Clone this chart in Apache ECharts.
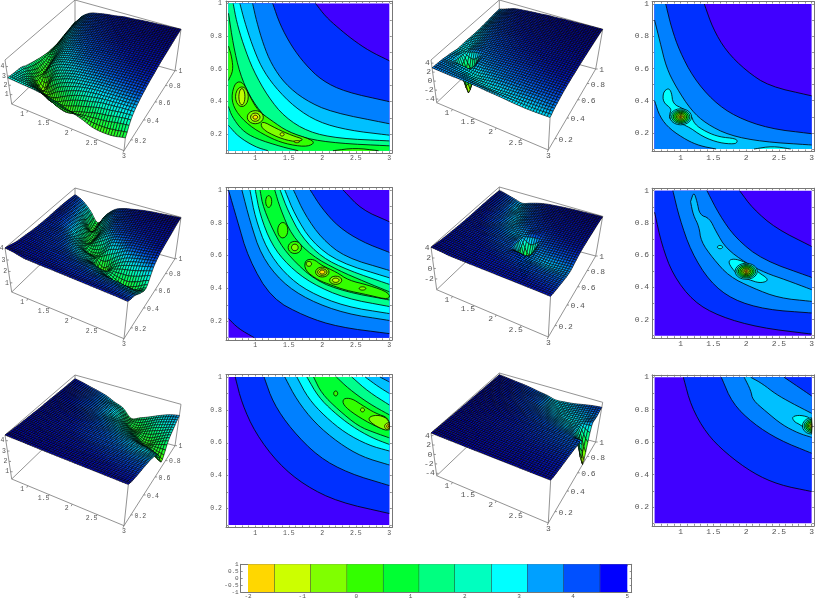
<!DOCTYPE html>
<html><head><meta charset="utf-8"><style>html,body{margin:0;padding:0;background:#fff}#c{width:817px;height:599px}</style>
<script src="https://cdn.jsdelivr.net/npm/echarts@6/dist/echarts.min.js"></script></head><body><div id="c"></div>
<script>
// ---- shared axis values ----
const gridX=[.6,.8,1,1.2,1.4,1.6,1.8,2,2.2,2.4,2.6,2.8,3];
const gridY=[.1,.15,.2,.25,.3,.4,.5,.6,.7,.8,.9,1];
const xLabels=[1,1.5,2,2.5,3];
const yLabels=[.2,.4,.6,.8,1];
const xTicks=[.6,.7,.8,.9,1,1.1,1.2,1.3,1.4,1.5,1.6,1.7,1.8,1.9,2,2.1,2.2,2.3,2.4,2.5,2.6,2.7,2.8,2.9,3];
const yTicks=[.1,.2,.3,.4,.5,.6,.7,.8,.9,1];
// ---- surface heights: one row per gridY ----
const surfA=[
[2.8,2.75,2.7,2.65,2.55,2.4,2.1,1.8,1.5,1.1,1.0,1.1,1.4],
[2.75,2.65,2.4,2.1,1.6,1.1,.9,1.2,1.5,1.8,2.0,2.3,2.5],
[2.7,2.4,1.8,1.2,.8,1.2,1.7,2.1,2.4,2.7,2.85,3.0,3.1],
[2.65,2.0,1.1,.8,1.6,2.1,2.5,2.8,3.0,3.1,3.2,3.3,3.4],
[2.4,1.5,.3,1.7,2.3,2.7,2.95,3.1,3.25,3.35,3.45,3.55,3.65],
[2.1,1.1,2.1,2.7,3.0,3.2,3.35,3.5,3.6,3.7,3.8,3.9,3.95],
[1.85,1.45,2.6,3.1,3.3,3.5,3.65,3.75,3.85,3.95,4.05,4.1,4.15],
[1.7,2.3,3.0,3.35,3.55,3.7,3.85,3.95,4.05,4.1,4.2,4.25,4.35],
[1.7,2.7,3.25,3.55,3.75,3.9,4.0,4.1,4.2,4.25,4.35,4.4,4.45],
[1.9,3.0,3.45,3.7,3.9,4.0,4.1,4.2,4.3,4.4,4.45,4.5,4.55],
[2.1,3.1,3.6,3.85,4.0,4.1,4.2,4.35,4.4,4.45,4.52,4.58,4.65],
[2.3,3.2,3.75,3.95,4.1,4.2,4.35,4.4,4.5,4.55,4.6,4.65,4.7]];
const surfB=[
[4.05,3.95,3.78,3.75,3.73,3.72,3.7,3.68,3.66,3.64,3.62,3.6,3.55],
[3.95,3.75,3.7,3.65,3.63,3.6,3.55,3.52,3.5,3.47,3.43,3.38,3.3],
[3.82,3.7,3.65,3.6,3.55,3.5,3.47,3.43,3.38,3.3,3.25,3.18,3.1],
[3.75,3.65,3.6,3.52,3.48,3.45,3.35,3.27,3.15,3.07,3,2.88,2.75],
[3.7,3.6,3.52,3.48,3.45,3.3,3.17,3.08,2.88,2.72,2.6,2.5,2.4],
[3.6,3.52,3.47,3.4,3.15,2.9,2.65,2.4,2.12,1.6,1.25,1.5,2.0],
[3.55,3.48,3.43,3.15,2.8,2.4,2.0,.7,1.7,2.25,2.55,2.8,3.05],
[3.53,3.5,3.2,2.75,2.2,1.5,1.6,2.38,2.7,3.12,3.25,3.37,3.5],
[3.55,3.47,3.08,2.45,1.55,2.1,2.65,3.1,3.3,3.42,3.5,3.58,3.68],
[3.55,3.35,2.85,2.05,1.4,2.45,3.1,3.35,3.47,3.58,3.65,3.72,3.8],
[3.52,3.2,2.55,1.2,2.2,2.95,3.28,3.48,3.62,3.72,3.82,3.9,3.95],
[3.45,3.1,2.4,1.5,2.45,3.13,3.43,3.58,3.72,3.82,3.88,3.95,4.0]];
const surfC=[
[4.55,4.53,4.52,4.5,4.48,4.47,4.46,4.45,4.44,4.43,4.42,4.41,4.4],
[4.5,4.47,4.45,4.43,4.41,4.4,4.38,4.36,4.34,4.3,4.26,4.2,4.15],
[4.47,4.43,4.4,4.38,4.35,4.32,4.28,4.25,4.2,4.16,4.1,4.05,4.0],
[4.43,4.4,4.36,4.32,4.28,4.22,4.17,4.1,4.05,4.0,3.95,3.9,3.85],
[4.4,4.35,4.3,4.25,4.2,4.15,4.08,4.0,3.95,3.88,3.83,3.78,3.73],
[4.35,4.3,4.25,4.17,4.08,3.98,3.88,3.8,3.72,3.65,3.58,3.52,3.48],
[4.3,4.25,4.2,4.13,4.03,3.9,3.78,3.67,3.55,3.43,3.3,3.2,3.15],
[4.28,4.22,4.16,4.05,3.93,3.78,3.62,3.48,3.33,3.18,3,2.85,2.55],
[4.25,4.17,4.03,3.87,3.72,3.55,3.4,3.2,2.9,2.55,2.0,1.6,1.0],
[4.22,4.1,3.95,3.77,3.6,3.37,3.05,2.75,2.25,1.8,1.45,1.9,2.3],
[4.2,4.05,3.87,3.68,3.47,3.3,2.9,2.15,1.6,1.85,2.3,2.6,2.9],
[4.18,4.02,3.8,3.6,3.35,2.95,2.6,1.8,2.1,2.45,2.85,3.2,3.4]];
const surfA3=[
[2.95,2.9,2.85,2.85,2.8,2.75,2.6,2.5,2.35,2.2,2.15,2.2,2.3],
[2.9,2.85,2.7,2.6,2.35,2.15,2.1,2.2,2.35,2.45,2.55,2.65,2.8],
[2.85,2.7,2.5,2.2,1.9,2.2,2.45,2.6,2.7,2.9,3.0,3.0,3.1],
[2.7,2.4,1.9,2.2,2.3,2.6,2.8,3.0,3.05,3.1,3.2,3.3,3.4],
[2.55,2.2,-4.8,2.15,2.7,2.9,3.0,3.1,3.25,3.35,3.45,3.55,3.65],
[2.2,2.05,2.6,2.9,3.05,3.2,3.35,3.5,3.6,3.7,3.8,3.9,3.95],
[2.25,2.3,2.85,3.1,3.3,3.5,3.65,3.75,3.85,3.95,4.05,4.1,4.15],
[2.2,2.55,3.05,3.35,3.55,3.7,3.85,3.95,4.05,4.1,4.2,4.25,4.35],
[2.25,2.85,3.25,3.55,3.75,3.9,4.0,4.1,4.2,4.25,4.35,4.4,4.45],
[2.4,3.0,3.45,3.7,3.9,4.0,4.1,4.2,4.3,4.4,4.45,4.5,4.55],
[2.6,3.1,3.6,3.85,4.0,4.1,4.2,4.35,4.4,4.45,4.52,4.58,4.65],
[2.7,3.2,3.75,3.95,4.1,4.2,4.35,4.4,4.5,4.55,4.6,4.65,4.7]];
const surfB3=[
[4.05,3.95,3.78,3.75,3.73,3.72,3.7,3.68,3.66,3.64,3.62,3.6,3.55],
[3.95,3.75,3.7,3.65,3.63,3.6,3.55,3.52,3.5,3.47,3.43,3.38,3.3],
[3.82,3.7,3.65,3.6,3.55,3.5,3.47,3.43,3.38,3.3,3.25,3.18,3.1],
[3.75,3.65,3.6,3.52,3.48,3.45,3.35,3.27,3.15,3.07,3,2.95,2.9],
[3.7,3.6,3.52,3.48,3.45,3.3,3.17,3.08,2.95,2.88,2.8,2.75,2.7],
[3.6,3.52,3.47,3.4,3.15,2.95,2.85,2.7,2.55,2.35,2.2,2.35,2.5],
[3.55,3.48,3.43,3.15,2.9,2.7,2.5,-4.05,2.35,2.6,2.8,2.9,3.05],
[3.53,3.5,3.2,2.85,2.55,2.3,2.3,2.65,2.85,3.12,3.25,3.37,3.5],
[3.55,3.47,3.08,2.65,2.25,2.5,2.85,3.1,3.3,3.42,3.5,3.58,3.68],
[3.55,3.35,2.9,2.45,2.2,2.7,3.1,3.35,3.47,3.58,3.65,3.72,3.8],
[3.52,3.2,2.75,2.15,2.5,2.95,3.28,3.48,3.62,3.72,3.82,3.9,3.95],
[3.45,3.1,2.65,2.25,2.7,3.13,3.43,3.58,3.72,3.82,3.88,3.95,4.0]];
const surfC3=[
[4.55,4.53,4.52,4.5,4.48,4.47,4.46,4.45,4.44,4.43,4.42,4.41,4.4],
[4.5,4.47,4.45,4.43,4.41,4.4,4.38,4.36,4.34,4.3,4.26,4.2,4.15],
[4.47,4.43,4.4,4.38,4.35,4.32,4.28,4.25,4.2,4.16,4.1,4.05,4.0],
[4.43,4.4,4.36,4.32,4.28,4.22,4.17,4.1,4.05,4.0,3.95,3.9,3.85],
[4.4,4.35,4.3,4.25,4.2,4.15,4.08,4.0,3.95,3.88,3.83,3.78,3.73],
[4.35,4.3,4.25,4.17,4.08,3.98,3.88,3.8,3.72,3.65,3.58,3.52,3.48],
[4.3,4.25,4.2,4.13,4.03,3.9,3.78,3.67,3.55,3.43,3.3,3.2,3.15],
[4.28,4.22,4.16,4.05,3.93,3.78,3.62,3.48,3.33,3.18,3.05,2.9,2.7],
[4.25,4.17,4.03,3.87,3.72,3.55,3.4,3.2,2.95,2.7,2.4,2.2,-4.5],
[4.22,4.1,3.95,3.77,3.6,3.37,3.1,2.8,2.45,2.25,2.1,2.3,2.45],
[4.2,4.05,3.87,3.68,3.47,3.3,2.95,2.4,2.15,2.25,2.45,2.65,2.9],
[4.18,4.02,3.8,3.6,3.35,3.0,2.7,2.2,2.3,2.5,2.85,3.2,3.4]];
// ---- contour curves, in data units ----
const a1=[[1.9,1],[2.05,.92],[2.24,.85],[2.45,.78],[2.7,.71],[3,.65]];
const a2=[[1.26,1],[1.37,.87],[1.54,.74],[1.74,.63],[1.99,.53],[2.34,.46],[3,.4]];
const a3=[[.96,1],[1.02,.89],[1.12,.75],[1.24,.63],[1.44,.51],[1.74,.41],[2.14,.335],[3,.265]];
const a4=[[.77,1],[.84,.89],[.95,.75],[1.09,.61],[1.29,.49],[1.59,.365],[1.94,.275],[2.39,.225],[3,.195]];
const a5=[[.67,1],[.72,.89],[.82,.75],[.97,.59],[1.19,.43],[1.44,.305],[1.79,.215],[2.24,.175],[3,.16]];
const a5low=[[1.19,.1],[1,.123],[.75,.185],[.6,.255]];
const a6=[[.6,.94],[.67,.75],[.77,.57],[.92,.43],[1.12,.315],[1.37,.235],[1.74,.175],[2.24,.145],[3,.13]];
const a6low=[[1.64,.1],[1.4,.123],[1,.175],[.8,.225],[.65,.31],[.6,.37]];
const a7band=[[.7,.52],[.82,.52],[.92,.43],[1.04,.345],[1.24,.285],[1.49,.215],[1.84,.168],[1.88,.143],[1.74,.123],[1.44,.143],[1.19,.184],[.9,.255],[.7,.345],[.64,.427]];
const a7left=[[.6,.74],[.65,.67],[.67,.59],[.6,.53]];
const a7bot=[[2.16,.1],[2.49,.117],[2.84,.1]];
const a8band=[[1.09,.285],[1.32,.234],[1.54,.194],[1.74,.168],[1.59,.153],[1.34,.18],[1.09,.234]];
const p1=[[1,[a1,[[3,.1]],[[.6,.1]],[[.6,1]]]],[2,[a2,[[3,.1]],[[.6,.1]],[[.6,1]]]],[3,[a3,[[3,.1]],[[.6,.1]],[[.6,1]]]],[4,[a4,[[3,.1]],[[.6,.1]],[[.6,1]]]],
 [5,[a5,[[3,.1]],a5low,[[.6,1]]]],[6,[a6,[[3,.1]],a6low]],[7,[a7band],1],[7,[a7left]],[7,[a7bot]],[8,[a8band],1]];
const p1Rings=[[.8,.43,.095,.06,8],[.8,.43,.045,.05,9],[1,.305,.12,.04,8],[1,.305,.07,.025,9],[1,.305,.035,.012,10],[1.4,.2,.03,.01,9],[1.62,.155,.04,.006,9]];

const b1=[[1.36,1],[1.49,.85],[1.69,.71],[2,.585],[2.35,.49],[3,.43]];
const b2=[[.77,1],[.86,.85],[.98,.71],[1.19,.545],[1.49,.4],[1.84,.3],[2.35,.227],[3,.195]];
const b3=[[.6,.9],[.68,.77],[.78,.605],[.93,.483],[1.16,.34],[1.39,.257],[1.74,.185],[2.25,.145],[3,.125]];
const b3low=[[1.54,.1],[1.29,.12],[1.09,.155],[.83,.225],[.68,.3],[.6,.4]];
const b4=[[.73,.452],[.81,.479],[.86,.452],[.88,.38],[1.04,.35],[1.15,.319],[1.21,.253],[1.39,.206],[1.59,.175],[1.84,.165],[1.87,.145],[1.82,.13],[1.59,.138],[1.34,.175],[1.09,.247],[.83,.278],[.83,.319],[.86,.35],[.73,.39]];
const b4bot=[[2.12,.1],[2.4,.118],[2.68,.1]];
const p2=[[1,[b1,[[3,.1]],[[.6,.1]],[[.6,1]]]],[2,[b2,[[3,.1]],[[.6,.1]],[[.6,1]]]],[3,[b3,[[3,.1]],b3low]],[4,[b4],1],[4,[b4bot]]];
const p2Rings=[[1,.3,.165,.05,4],[1,.3,.14,.042,5],[1,.3,.115,.035,6],[1,.3,.09,.028,7],[1,.3,.065,.021,8],[1,.3,.045,.014,9],[1,.3,.025,.008,10],[1,.3,.01,.004,11]];

const cCorner=[[.985,.1],[.75,.155],[.6,.216]];
const cF=[[2.31,1],[2.59,.88],[3,.807]];
const cG=[[1.82,1],[1.99,.89],[2.24,.775],[2.59,.685],[3,.62]];
const cH=[[1.57,1],[1.74,.85],[1.99,.705],[2.34,.59],[3,.51]];
const cI=[[1.44,1],[1.59,.85],[1.84,.685],[2.24,.56],[3,.465]];
const cJ=[[1.37,1],[1.49,.87],[1.69,.715],[1.99,.59],[2.39,.51],[3,.425]];
const cK=[[1.29,1],[1.37,.89],[1.54,.725],[1.84,.6],[2.24,.51],[2.64,.44],[3,.38]];
const cA=[[3,.125],[2.24,.165],[1.74,.23],[1.24,.34],[.9,.58],[.72,.83],[.6,1]];
const cB=[[3,.205],[2.34,.247],[1.79,.33],[1.39,.44],[1.09,.6],[.92,.81],[.8,1]];
const cC=[[3,.247],[2.34,.29],[1.79,.38],[1.44,.49],[1.17,.64],[1,.83],[.92,1]];
const cD=[[3,.29],[2.34,.34],[1.84,.43],[1.49,.54],[1.24,.67],[1.07,.85],[1,1]];
const cE=[[3,.33],[2.34,.38],[1.89,.45],[1.52,.59],[1.32,.705],[1.12,.89],[1.07,1]];
const cLong=[[1.74,.573],[1.87,.58],[1.99,.54],[2.21,.5],[2.39,.45],[2.69,.42],[3,.375],[3,.33],[2.69,.36],[2.34,.39],[2.14,.42],[1.94,.45],[1.74,.51]];
const p3=[[1,[cF,[[3,.1]],cCorner,[[.6,1]]]],[2,[cG,cA]],[3,[cH,cB]],[4,[cI,cC]],[5,[cJ,cD]],[6,[cK,cE]],[7,[cLong],1]];
const p3Rings=[[1.2,.93,.045,.036,7],[1.41,.755,.075,.047,7],[1.59,.65,.1,.037,7],[1.59,.65,.05,.02,8],[1.8,.55,.04,.015,8],[2,.5,.1,.03,8],[2,.5,.07,.02,9],[2,.5,.04,.012,10],[2.2,.45,.09,.025,8],[2.2,.45,.05,.013,9],[2.6,.4,.05,.01,8]];

const dLowV=[[3,.11],[2.2,.15],[1.59,.22],[1.19,.313],[.88,.478],[.71,.664],[.6,.866]];
const dUpV=[[1.9,1],[2.1,.89],[2.45,.767],[3,.654]];
const dLowA=[[3,.241],[2.3,.262],[1.79,.324],[1.44,.437],[1.16,.62],[.98,.83],[.88,1]];
const dUpA=[[1.4,1],[1.59,.85],[1.84,.705],[2.25,.571],[3,.462]];
const dLowS=[[1.15,.932],[1.19,.85],[1.28,.777],[1.31,.685],[1.49,.581],[1.74,.468],[2.1,.396],[2.5,.334],[3,.313]];
const dUpS=[[3,.386],[2.6,.447],[2.3,.489],[2,.55],[1.69,.643],[1.54,.746],[1.44,.829],[1.29,.85],[1.25,.932],[1.2,.994],[1.15,.932]];
const dIsl=[[1.74,.571],[1.84,.577],[2.02,.55],[2.2,.489],[2.32,.458],[2.32,.437],[2.2,.427],[2.05,.447],[1.89,.468],[1.74,.54]];
const p4=[[1,[dUpV,[[3,.1]],dLowV,[[.6,1]]]],[2,[dUpA,dLowA]],[3,[dLowS,dUpS]],[4,[dIsl],1]];
const p4Rings=[[1.6,.65,.04,.01,4],[2,.5,.17,.05,4],[2,.5,.145,.042,5],[2,.5,.12,.035,6],[2,.5,.095,.028,7],[2,.5,.07,.021,8],[2,.5,.05,.015,9],[2,.5,.03,.009,10],[2,.5,.012,.004,11]];

const eV=[[.7,1],[.8,.84],[1,.66],[1.34,.475],[1.74,.34],[2.24,.24],[3,.17]];
const eA=[[1.13,1],[1.27,.84],[1.54,.68],[1.94,.515],[2.39,.415],[3,.34]];
const eS=[[1.44,1],[1.62,.86],[1.89,.72],[2.24,.6],[2.59,.515],[3,.465]];
const eC=[[1.62,1],[1.79,.87],[2.04,.76],[2.34,.66],[2.69,.585],[3,.55]];
const eP=[[1.77,1],[1.94,.88],[2.16,.79],[2.44,.7],[2.74,.63],[3,.59]];
const eG=[[1.87,1],[1.99,.9],[2.24,.8],[2.54,.7],[2.79,.66],[3,.63]];
const eUS=[[3,.97],[2.86,1]];
const eUC=[[3,.9],[2.84,.94],[2.64,1]];
const eUP=[[3,.83],[2.69,.91],[2.44,1]];
const eUG=[[3,.77],[2.69,.84],[2.39,.93],[2.21,1]];
const eLime=[[2.31,.87],[2.44,.87],[2.59,.83],[2.79,.78],[3,.75],[3,.67],[2.79,.7],[2.49,.77],[2.31,.83]];
const eChart=[[2.7,.76],[2.85,.77],[3,.74],[3,.67],[2.85,.69],[2.7,.73]];
const p5=[[1,[eV,[[3,1]]]],[2,[eA,[[3,1]]]],[3,[eS,eUS]],[4,[eC,eUC]],[5,[eP,eUP]],[6,[eG,eUG]],[7,[eLime],1],[8,[eChart],1]];
const p5Rings=[[2.2,.9,.03,.015,7],[2.6,.8,.03,.012,8],[3,.7,.07,.022,9],[3,.7,.04,.013,10],[3,.7,.015,.005,11]];

const fV=[[1.04,1],[1.16,.82],[1.39,.655],[1.69,.532],[2.1,.41],[2.5,.337],[3,.296]];
const fA=[[1.62,1],[1.79,.84],[2.1,.717],[2.5,.614],[3,.532]];
const fTop=[[3,.885],[2.8,.94],[2.58,1]];
const fLow=[[1.97,1],[2.07,.92],[2.1,.86],[2.3,.79],[2.55,.707],[2.8,.655],[3,.63]];
const fUp=[[3,.778],[2.7,.84],[2.45,.897],[2.25,.96],[2.07,1]];
const fIsl=[[2.7,.758],[2.83,.768],[3,.748],[3,.655],[2.83,.707],[2.73,.727]];
const p6=[[1,[fV,[[3,1]]]],[2,[fA,fTop]],[3,[fLow,fUp]],[4,[fIsl],1]];
const p6Rings=[[3,.7,.14,.05,4],[3,.7,.115,.041,5],[3,.7,.09,.033,6],[3,.7,.07,.025,7],[3,.7,.05,.018,8],[3,.7,.03,.011,9],[3,.7,.015,.005,10]];
// ---- colour legend ----
const barEdges=[-2,-1.51,-.84,-.17,.5,1.16,1.82,2.5,3.16,3.83,4.5,5];
const barColors=['#ffd700','#ccff00','#80ff00','#33ff00','#00ff33','#00ff80','#00ffbf','#00ffff','#00a0ff','#0050ff','#0000ff'];
const barXLabels=[-2,-1,0,1,2,3,4,5];
const barYLabels=[-1,-.5,0,.5,1];
const bandColors=['#4000ff','#0030ff','#0080ff','#00c0ff','#00ffff','#00ff8c','#00ff33','#33ff00','#80ff00','#c0ff00','#ffe000','#ff9000'];
// surface colour stops, as a fraction of each panel's height range
const stopsLeft=[[0,'#c0ff00'],[.2,'#40ff00'],[.4,'#00ff60'],[.55,'#00ffcc'],[.66,'#00e0ff'],[.78,'#0060f0'],[.88,'#0018c8'],[1,'#0000a8']];
const stopsRight=[[0,'#e0ff00'],[.25,'#60ff00'],[.5,'#00ff60'],[.68,'#00ffcc'],[.74,'#00e8ff'],[.84,'#0060f0'],[.92,'#0018c8'],[1,'#0000a8']];

// ---- layout ----
const GREY='#777', TXT='#555';
const cols3d=[
 {base:[[11.7,104],[124,150.7],[175,70.7],[75,43]],top:[[5,60],[128.5,108],[181,29.3],[75,0]],dy:[0,188,375],fs:6.5,stops:stopsLeft},
 {base:[[436.7,102.7],[548.3,150],[595.7,69],[499.3,43]],top:[[431,60],[550.7,106.5],[602.7,29.3],[499.3,0]],dy:[0,187,373],fs:8,stops:stopsRight}];
const surfaces=[
 {t:surfA,c:0,r:0,z:[0,4.7],zt:[1,2,3,4]},{t:surfB,c:0,r:1,z:[.2,4.05],zt:[1,2,3,4]},{t:surfC,c:0,r:2,z:[.3,4.55],zt:[1,2,3,4]},
 {t:surfA3,c:1,r:0,z:[-4.8,4.7],zt:[-4,-2,0,2,4]},{t:surfB3,c:1,r:1,z:[-4.06,4.1],zt:[-2,0,2,4]},{t:surfC3,c:1,r:2,z:[-4.5,4.55],zt:[-4,-2,0,2,4]}];
const cols2d=[{x0:228.5,x1:389.3,rows:[[2.3,150.7],[190,337.7],[377,525]],fs:6.5,lm:4},{x0:654.6,x1:813,rows:[[2.7,149],[190.7,335.7],[377.3,523.3]],fs:8,lm:3}];
const contours=[{l:p1,g:p1Rings,c:0,r:0},{l:p2,g:p2Rings,c:1,r:0},{l:p3,g:p3Rings,c:0,r:1},{l:p4,g:p4Rings,c:1,r:1},{l:p5,g:p5Rings,c:0,r:2},{l:p6,g:p6Rings,c:1,r:2}];

// ---- helpers ----
function chaikin(p,closed){let a=p;for(let k=0;k<2;k++){const o=[];const n=a.length;
  if(!closed)o.push(a[0]);
  for(let i=0;i<(closed?n:n-1);i++){const u=a[i],v=a[(i+1)%n];o.push([.75*u[0]+.25*v[0],.75*u[1]+.25*v[1]],[.25*u[0]+.75*v[0],.25*u[1]+.75*v[1]]);}
  if(!closed)o.push(a[n-1]);a=o;}return a;}
const clampPt=p=>[Math.min(3,Math.max(.6,p[0])),Math.min(1,Math.max(.1,p[1]))];
function ringPts(g){const o=[];for(let i=0;i<20;i++){const t=i/20*2*Math.PI;o.push(clampPt([g[0]+g[2]*Math.cos(t),g[1]+g[3]*Math.sin(t)]));}return o;}
function buildLayers(list,rings){const out=[{fill:bandColors[0],poly:[[.6,.1],[3,.1],[3,1],[.6,1]],strokes:[]}];
  list.forEach(l=>{const closed=!!l[2];const poly=[],strokes=[];l[1].forEach(seg=>{if(seg.length===1){poly.push(seg[0]);return;}
    const s=chaikin(seg,closed).map(clampPt);poly.push(...s);strokes.push({p:s,closed});});out.push({fill:bandColors[l[0]],poly,strokes});});
  rings.forEach(g=>{const s=ringPts(g);out.push({fill:bandColors[g[4]],poly:s,strokes:[{p:s,closed:true}]});});return out;}
function homography(q){const [x0,y0]=q[0],[x1,y1]=q[1],[x2,y2]=q[2],[x3,y3]=q[3];
  const dx1=x1-x2,dx2=x3-x2,sx=x0-x1+x2-x3,dy1=y1-y2,dy2=y3-y2,sy=y0-y1+y2-y3,den=dx1*dy2-dx2*dy1;
  const g=(sx*dy2-dx2*sy)/den,h=(dx1*sy-sx*dy1)/den;
  const a=x1-x0+g*x1,b=x3-x0+h*x3,d=y1-y0+g*y1,e=y3-y0+h*y3;
  return (u,v)=>{const w=g*u+h*v+1;return [(a*u+b*v+x0)/w,(d*u+e*v+y0)/w];};}
function hex(c){return [parseInt(c.substr(1,2),16),parseInt(c.substr(3,2),16),parseInt(c.substr(5,2),16)];}
function zColor(f,st){for(let i=0;i<st.length-1;i++){if(f<=st[i+1][0]){const t=Math.max(0,(f-st[i][0])/(st[i+1][0]-st[i][0]));
  const a=hex(st[i][1]),b=hex(st[i+1][1]);return 'rgb('+a.map((v,k)=>Math.round(v+(b[k]-v)*t)).join(',')+')';}}return st[st.length-1][1];}
function cr(p0,p1,p2,p3,t){const v=.5*(2*p1+(p2-p0)*t+(2*p0-5*p1+4*p2-p3)*t*t+(3*p1-p0-3*p2+p3)*t*t*t);return Math.max(Math.min(p1,p2),Math.min(Math.max(p1,p2),v));}
function idx(arr,v){let i=0;while(i<arr.length-2&&v>=arr[i+1]-1e-9)i++;return [i,(v-arr[i])/(arr[i+1]-arr[i])];}
function sample(t,x,y){const [i,fx]=idx(gridX,x),[j,fy]=idx(gridY,y);const R=k=>t[Math.max(0,Math.min(t.length-1,k))];
  const col=r=>{const C=k=>r[Math.max(0,Math.min(r.length-1,k))];return cr(C(i-1),C(i),C(i+1),C(i+2),fx);};
  return cr(col(R(j-1)),col(R(j)),col(R(j+1)),col(R(j+2)),fy);}

// ---- option ----
const grids=[{left:0,top:0,width:817,height:599}];
const xAxes=[{type:'value',gridIndex:0,min:0,max:817,show:false}];
const yAxes=[{type:'value',gridIndex:0,min:0,max:599,inverse:true,show:false}];
const series=[];
const NX=48,NY=45;

surfaces.forEach(S=>{
  const C=cols3d[S.c],dy=C.dy[S.r];
  const shift=q=>q.map(p=>[p[0],p[1]+dy]);
  const hB=homography(shift(C.base)),hT=homography(shift(C.top));
  const proj=(x,y,z)=>{const u=(x-.6)/2.4,v=(y-.1)/.9,f=(z-S.z[0])/(S.z[1]-S.z[0]);const a=hB(u,v),b=hT(u,v);return [a[0]+(b[0]-a[0])*f,a[1]+(b[1]-a[1])*f];};
  const [zl,zh]=S.z;
  const segs=[[.6,.1,zl,.6,1,zl],[.6,1,zl,3,1,zl],[.6,1,zl,.6,1,zh],[.6,.1,zh,.6,1,zh],[.6,1,zh,3,1,zh],[.6,.1,zl,3,.1,zl],[3,.1,zl,3,1,zl],[.6,.1,zl,.6,.1,zh],[3,1,zl,3,1,zh],[3,.1,zl,3,.1,S.t[0][12]]]
    .map(s=>[...proj(s[0],s[1],s[2]),...proj(s[3],s[4],s[5])]);
  const texts=[];
  xLabels.forEach(v=>{const e=proj(v,.1,zl);const o=v===3?[0,5.5]:[-5.5,4];segs.push([e[0],e[1],e[0]-1,e[1]+2]);texts.push([e[0]+o[0],e[1]+o[1],String(v),'center']);});
  yLabels.forEach(v=>{const e=proj(3,v,zl);segs.push([e[0],e[1],e[0]+2,e[1]]);texts.push([e[0]+3.5,e[1]+1,String(v),'left']);});
  S.zt.forEach(v=>{const e=proj(.6,.1,v);segs.push([e[0],e[1],e[0]+2,e[1]]);texts.push([e[0]-1.5,e[1],String(v),'right']);});
  series.push({type:'custom',xAxisIndex:0,yAxisIndex:0,silent:true,data:segs,renderItem:(p,api)=>{
    const a=api.coord([api.value(0),api.value(1)]),b=api.coord([api.value(2),api.value(3)]);
    return {type:'line',shape:{x1:a[0],y1:a[1],x2:b[0],y2:b[1]},style:{stroke:GREY,lineWidth:.8}};}});
  // mesh
  const P=[],Z=[];
  for(let j=0;j<=NY;j++){P.push([]);Z.push([]);const y=.1+.9*j/NY;for(let i=0;i<=NX;i++){const x=.6+2.4*i/NX;const z=Math.max(zl,Math.min(zh,sample(S.t,x,y)));Z[j].push(z);P[j].push(proj(x,y,z));}}
  const cells=[];for(let j=NY-1;j>=0;j--)for(let i=0;i<NX;i++)cells.push([i,j]);
  series.push({type:'custom',xAxisIndex:0,yAxisIndex:0,silent:true,data:cells,progressive:0,renderItem:(p,api)=>{
    const i=api.value(0),j=api.value(1);
    const pts=[P[j][i],P[j][i+1],P[j+1][i+1],P[j+1][i]].map(q=>api.coord(q));
    const f=((Z[j][i]+Z[j][i+1]+Z[j+1][i]+Z[j+1][i+1])/4-zl)/(zh-zl);
    return {type:'polygon',shape:{points:pts},style:{fill:zColor(f,C.stops),stroke:'#000',lineWidth:.6}};}});
  series.push({type:'custom',xAxisIndex:0,yAxisIndex:0,silent:true,data:texts.map((t,i)=>[t[0],t[1],i]),renderItem:(p,api)=>{
    const t=texts[api.value(2)],c=api.coord([t[0],t[1]]);
    return {type:'text',style:{text:t[2],x:c[0],y:c[1],fill:TXT,font:C.fs+'px "Liberation Mono"',align:t[3],verticalAlign:'middle'}};}});
});

function frameAxes(gi,xr,yr,xt,yt,xl,yl,fs,lm,bm){
  const base={type:'value',gridIndex:gi,splitLine:{show:false}};
  const mk=(extra,ticks,labels,m)=>Object.assign({},base,extra,{axisLine:{show:true,onZero:false,lineStyle:{color:GREY,width:1}},
    axisTick:{show:true,inside:true,length:2,customValues:ticks,lineStyle:{color:GREY,width:.8}},
    axisLabel:labels?{show:true,customValues:labels,formatter:v=>String(+(+v).toFixed(2)),margin:m,fontFamily:'Liberation Mono',fontSize:fs,color:TXT,hideOverlap:false,showMinLabel:true,showMaxLabel:true}:{show:false}});
  const xi=xAxes.length,yi=yAxes.length;
  xAxes.push(mk({min:xr[0],max:xr[1],position:'bottom'},xt,xl,bm));
  xAxes.push(mk({min:xr[0],max:xr[1],position:'top'},xt,null,0));
  yAxes.push(mk({min:yr[0],max:yr[1],position:'left'},yt,yl,lm));
  yAxes.push(mk({min:yr[0],max:yr[1],position:'right'},yt,null,0));
  return [xi,yi];
}
contours.forEach((K,n)=>{
  const C=cols2d[K.c],R=C.rows[K.r],m=2.5;
  const sx=(C.x1-C.x0)/2.4,sy=(R[1]-R[0])/.9;
  const gi=grids.length;
  grids.push({left:C.x0-m,top:R[0]-m,width:C.x1-C.x0+2*m,height:R[1]-R[0]+2*m});
  const [xi,yi]=frameAxes(gi,[.6-m/sx,3+m/sx],[.1-m/sy,1+m/sy],xTicks,yTicks,xLabels,yLabels,C.fs,C.lm,2);
  const L=buildLayers(K.l,K.g);
  series.push({type:'custom',xAxisIndex:xi,yAxisIndex:yi,silent:true,data:L.map((_,i)=>[i,0]),renderItem:(p,api)=>{
    const l=L[api.value(0)];const ch=[{type:'polygon',shape:{points:l.poly.map(q=>api.coord(q))},style:{fill:l.fill}}];
    l.strokes.forEach(s=>{const pts=s.p.map(q=>api.coord(q));if(s.closed)pts.push(pts[0]);ch.push({type:'polyline',shape:{points:pts},style:{stroke:'#000',lineWidth:.8,fill:null}});});
    return {type:'group',children:ch};}});
});
// colour bar
(function(){
  const px0=248,px1=627.3,sx=(px1-px0)/7,lm=7.3,rm=4.4,gi=grids.length;
  grids.push({left:px0-lm,top:564.3,width:px1-px0+lm+rm,height:28});
  const [xi,yi]=frameAxes(gi,[-2-lm/sx,5+rm/sx],[-1,1],barXLabels,barYLabels,barXLabels,barYLabels,6,2,1);
  series.push({type:'custom',xAxisIndex:xi,yAxisIndex:yi,silent:true,data:barColors.map((_,i)=>[barEdges[i],barEdges[i+1],i]),renderItem:(p,api)=>{
    const a=api.coord([api.value(0),1]),b=api.coord([api.value(1),-1]);const i=api.value(2);
    const ch=[{type:'rect',shape:{x:a[0],y:a[1],width:b[0]-a[0],height:b[1]-a[1]},style:{fill:barColors[i]}}];
    if(i<barColors.length-1)ch.push({type:'line',shape:{x1:b[0],y1:a[1],x2:b[0],y2:b[1]},style:{stroke:'#223',lineWidth:.9}});
    return {type:'group',children:ch};}});
})();

const chart=echarts.init(document.getElementById('c'),null,{renderer:'canvas'});
chart.setOption({animation:false,backgroundColor:'#fff',grid:grids,xAxis:xAxes,yAxis:yAxes,series});
</script></body></html>
